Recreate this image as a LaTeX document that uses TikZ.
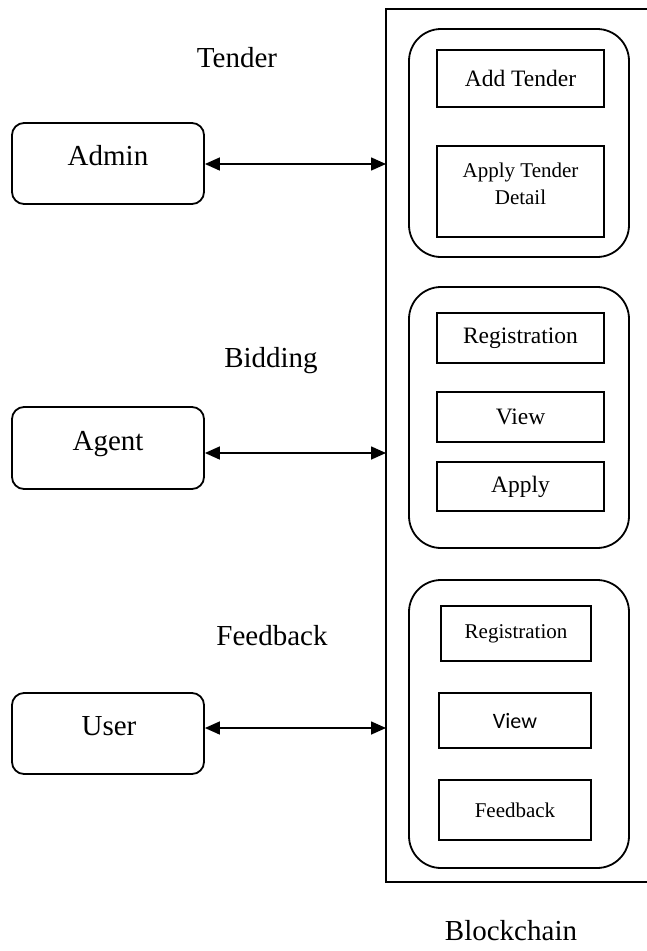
\documentclass[tikz,border=0pt]{standalone}
\usepackage{fontspec}
\setmainfont{Liberation Serif}
\newfontfamily\calfont{Carlito}
\usetikzlibrary{arrows.meta}
\begin{document}
\begin{tikzpicture}[x=1pt,y=-1pt,
  big/.style={font=\fontsize{29}{34}\selectfont},
  actor/.style={draw,line width=1.8pt,rounded corners=12pt,minimum width=192pt,minimum height=81pt,inner sep=0pt},
  group/.style={draw,line width=1.8pt,rounded corners=32pt,minimum width=220pt,inner sep=0pt},
  item/.style={draw,line width=1.7pt,inner sep=0pt,align=center},
  link/.style={line width=1.6pt,{Triangle[length=15pt,width=13pt]}-{Triangle[length=15pt,width=13pt]}},
]
\useasboundingbox (0,0) rectangle (647,951);

% outer frame (right side runs off the picture)
\coordinate (ftr) at (660,9);
\coordinate (ftl) at (386,9);
\coordinate (fbl) at (386,882);
\coordinate (fbr) at (660,882);
\begin{scope}
\clip (0,0) rectangle (647,951);
\draw[line width=1.8pt] (ftr) -- (ftl) -- (fbl) -- (fbr);
\end{scope}

% groups
\node[group,minimum height=228pt] (g1) at (519,143) {};
\node[group,minimum height=261pt] (g2) at (519,417.5) {};
\node[group,minimum height=288pt] (g3) at (519,724) {};

% group 1 items
\node[item,minimum width=167pt,minimum height=57pt,font=\fontsize{23.5}{28}\selectfont] (addt) at (520.5,78.5) {Add Tender};
\node[item,minimum width=167pt,minimum height=91pt] (applyt) at (520.5,191.5) {};
\node[anchor=north,inner sep=0pt,align=center,font=\fontsize{21}{27}\selectfont] (applytT) at (520.5,163) {Apply Tender\\Detail};

% group 2 items
\node[item,minimum width=167pt,minimum height=50pt,font=\fontsize{23.5}{28}\selectfont] (reg2) at (520.5,338) {Registration};
\node[item,minimum width=167pt,minimum height=50pt,font=\fontsize{23.5}{28}\selectfont] (view2) at (520.5,417) {View};
\node[item,minimum width=167pt,minimum height=49pt,font=\fontsize{23.5}{28}\selectfont] (apply2) at (520.5,486.5) {Apply};

% group 3 items
\node[item,minimum width=150pt,minimum height=55pt,font=\fontsize{21}{25}\selectfont] (reg3) at (516,633.5) {Registration};
\node[item,minimum width=152pt,minimum height=55pt,font=\calfont\fontsize{22}{26}\selectfont] (view3) at (515,720.5) {View};
\node[item,minimum width=152pt,minimum height=60pt,font=\fontsize{21}{25}\selectfont] (fb3) at (515,810) {Feedback};

% actors
\node[actor] (admin) at (108,163.5) {};
\node[actor,minimum height=82pt] (agent) at (108,448) {};
\node[actor] (user) at (108,733.5) {};
\node[big,anchor=base] (adminT) at (108,165) {Admin};
\node[big,anchor=base] (agentT) at (108,450) {Agent};
\node[big,anchor=base] (userT) at (109,735) {User};

% section labels
\node[big,anchor=base] (tenderL) at (237,67) {Tender};
\node[big,anchor=base] (biddingL) at (271,367) {Bidding};
\node[big,anchor=base] (feedbackL) at (272,645) {Feedback};
\node[big,anchor=base] (chainL) at (511,940) {Blockchain};

% connectors
\coordinate (a1) at (386,164);
\coordinate (a2) at (386,453);
\coordinate (a3) at (386,728);
\draw[link] (admin.east |- a1) -- (a1);
\draw[link] (agent.east |- a2) -- (a2);
\draw[link] (user.east |- a3) -- (a3);
\end{tikzpicture}
\end{document}
